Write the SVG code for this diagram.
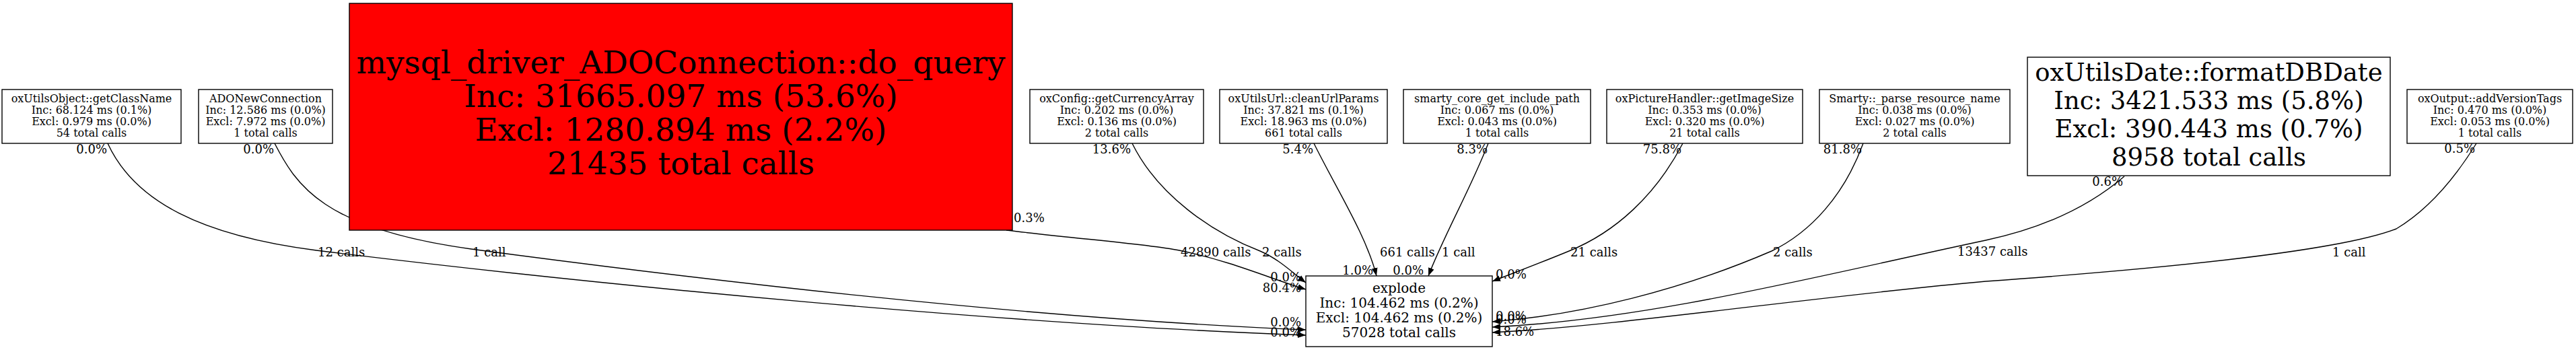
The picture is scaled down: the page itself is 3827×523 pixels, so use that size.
<svg xmlns="http://www.w3.org/2000/svg" width="3827" height="523" viewBox="0 0 3827 523">
<style>
.box{fill:#fff;stroke:#000;stroke-width:1.4}
.red{fill:#ff0000;stroke:#000;stroke-width:1.4}
text{font-family:"DejaVu Serif","Liberation Serif",serif;fill:#000}
.s{font-size:16px;text-anchor:middle}
.m{font-size:20px;text-anchor:middle}
.b{font-size:47px;text-anchor:middle}
.d{font-size:37px;text-anchor:middle}
.l{font-size:18px}
.e{fill:none;stroke:#000;stroke-width:1.4}
</style>
<defs>
<marker id="ah" markerWidth="13" markerHeight="9" refX="12" refY="4.5" orient="auto" markerUnits="userSpaceOnUse"><path d="M0,0 L12,4.5 L0,9 z" fill="#000"/></marker>
</defs>
<rect width="3827" height="523" fill="#fff"/>
<g id="connectors">
<path class="e" marker-end="url(#ah)" d="M160,213 C200,300 300,350 470,372 C900,425 1500,482 1940,498"/>
<path class="e" marker-end="url(#ah)" d="M408,213 C440,275 480,340 700,370 C1000,410 1500,472 1940,490"/>
<path class="e" marker-end="url(#ah)" d="M1495,342 C1600,355 1700,362 1752,372 C1830,388 1890,415 1940,430"/>
<path class="e" marker-end="url(#ah)" d="M1682,213 C1720,290 1800,345 1872,373 C1900,385 1920,405 1940,420"/>
<path class="e" marker-end="url(#ah)" d="M1952,213 C1985,280 2030,350 2045,410"/>
<path class="e" marker-end="url(#ah)" d="M2211,213 C2185,280 2145,350 2122,410"/>
<path class="e" marker-end="url(#ah)" d="M2500,213 C2460,290 2400,345 2331,373 C2290,390 2250,405 2217,418"/>
<path class="e" marker-end="url(#ah)" d="M2768,213 C2740,290 2690,345 2632,373 C2500,430 2350,468 2217,478"/>
<path class="e" marker-end="url(#ah)" d="M3156,262 C3100,310 3030,340 2950,357 C2700,410 2450,475 2217,486"/>
<path class="e" marker-end="url(#ah)" d="M3679,213 C3650,260 3610,310 3560,340 C3470,375 3200,400 2950,418 C2700,440 2400,485 2217,494"/>
<g class="l">
<text x="159" y="228" text-anchor="end">0.0%</text>
<text x="407" y="228" text-anchor="end">0.0%</text>
<text x="1506" y="330">0.3%</text>
<text x="1680" y="228" text-anchor="end">13.6%</text>
<text x="1951" y="228" text-anchor="end">5.4%</text>
<text x="2210" y="228" text-anchor="end">8.3%</text>
<text x="2498" y="228" text-anchor="end">75.8%</text>
<text x="2766" y="228" text-anchor="end">81.8%</text>
<text x="3154" y="276" text-anchor="end">0.6%</text>
<text x="3677" y="227" text-anchor="end">0.5%</text>
<text x="472" y="381">12 calls</text>
<text x="702" y="381">1 call</text>
<text x="1754" y="381">42890 calls</text>
<text x="1875" y="381">2 calls</text>
<text x="2050" y="381">661 calls</text>
<text x="2142" y="381">1 call</text>
<text x="2333" y="381">21 calls</text>
<text x="2634" y="381">2 calls</text>
<text x="2908" y="380">13437 calls</text>
<text x="3465" y="381">1 call</text>
<text x="1933" y="418" text-anchor="end">0.0%</text>
<text x="1933" y="434" text-anchor="end">80.4%</text>
<text x="1933" y="485" text-anchor="end">0.0%</text>
<text x="1933" y="500" text-anchor="end">0.0%</text>
<text x="2040" y="408" text-anchor="end">1.0%</text>
<text x="2115" y="408" text-anchor="end">0.0%</text>
<text x="2222" y="414">0.0%</text>
<text x="2222" y="476">0.0%</text>
<text x="2222" y="481">0.0%</text>
<text x="2222" y="499">18.6%</text>
</g>
</g>
<g id="n1"><rect class="box" x="3" y="133" width="266" height="80"/><text class="s" x="136" y="151.5">oxUtilsObject::getClassName</text><text class="s" x="136" y="168.5">Inc: 68.124 ms (0.1%)</text><text class="s" x="136" y="185.5">Excl: 0.979 ms (0.0%)</text><text class="s" x="136" y="202.5">54 total calls</text></g>
<g id="n2"><rect class="box" x="295" y="133" width="199" height="80"/><text class="s" x="394.5" y="151.5">ADONewConnection</text><text class="s" x="394.5" y="168.5">Inc: 12.586 ms (0.0%)</text><text class="s" x="394.5" y="185.5">Excl: 7.972 ms (0.0%)</text><text class="s" x="394.5" y="202.5">1 total calls</text></g>
<g id="n3"><rect class="red" x="519" y="5" width="985" height="337"/><text class="b" x="1011.5" y="109">mysql_driver_ADOConnection::do_query</text><text class="b" x="1011.5" y="159">Inc: 31665.097 ms (53.6%)</text><text class="b" x="1011.5" y="209">Excl: 1280.894 ms (2.2%)</text><text class="b" x="1011.5" y="259">21435 total calls</text></g>
<g id="n4"><rect class="box" x="1530" y="133" width="258" height="80"/><text class="s" x="1659" y="151.5">oxConfig::getCurrencyArray</text><text class="s" x="1659" y="168.5">Inc: 0.202 ms (0.0%)</text><text class="s" x="1659" y="185.5">Excl: 0.136 ms (0.0%)</text><text class="s" x="1659" y="202.5">2 total calls</text></g>
<g id="n5"><rect class="box" x="1812" y="133" width="249" height="80"/><text class="s" x="1936.5" y="151.5">oxUtilsUrl::cleanUrlParams</text><text class="s" x="1936.5" y="168.5">Inc: 37.821 ms (0.1%)</text><text class="s" x="1936.5" y="185.5">Excl: 18.963 ms (0.0%)</text><text class="s" x="1936.5" y="202.5">661 total calls</text></g>
<g id="n6"><rect class="box" x="2085" y="133" width="278" height="80"/><text class="s" x="2224" y="151.5">smarty_core_get_include_path</text><text class="s" x="2224" y="168.5">Inc: 0.067 ms (0.0%)</text><text class="s" x="2224" y="185.5">Excl: 0.043 ms (0.0%)</text><text class="s" x="2224" y="202.5">1 total calls</text></g>
<g id="n7"><rect class="box" x="2387" y="133" width="291" height="80"/><text class="s" x="2532.5" y="151.5">oxPictureHandler::getImageSize</text><text class="s" x="2532.5" y="168.5">Inc: 0.353 ms (0.0%)</text><text class="s" x="2532.5" y="185.5">Excl: 0.320 ms (0.0%)</text><text class="s" x="2532.5" y="202.5">21 total calls</text></g>
<g id="n8"><rect class="box" x="2703" y="133" width="283" height="80"/><text class="s" x="2844.5" y="151.5">Smarty::_parse_resource_name</text><text class="s" x="2844.5" y="168.5">Inc: 0.038 ms (0.0%)</text><text class="s" x="2844.5" y="185.5">Excl: 0.027 ms (0.0%)</text><text class="s" x="2844.5" y="202.5">2 total calls</text></g>
<g id="n9"><rect class="box" x="3012" y="85" width="539" height="176"/><text class="d" x="3281.5" y="120">oxUtilsDate::formatDBDate</text><text class="d" x="3281.5" y="162">Inc: 3421.533 ms (5.8%)</text><text class="d" x="3281.5" y="204">Excl: 390.443 ms (0.7%)</text><text class="d" x="3281.5" y="246">8958 total calls</text></g>
<g id="n10"><rect class="box" x="3576" y="133" width="246" height="80"/><text class="s" x="3699" y="151.5">oxOutput::addVersionTags</text><text class="s" x="3699" y="168.5">Inc: 0.470 ms (0.0%)</text><text class="s" x="3699" y="185.5">Excl: 0.053 ms (0.0%)</text><text class="s" x="3699" y="202.5">1 total calls</text></g>
<g id="n11"><rect class="box" x="1940" y="410" width="277" height="105"/><text class="m" x="2078.5" y="434.5">explode</text><text class="m" x="2078.5" y="456.5">Inc: 104.462 ms (0.2%)</text><text class="m" x="2078.5" y="478.5">Excl: 104.462 ms (0.2%)</text><text class="m" x="2078.5" y="500.5">57028 total calls</text></g>
</svg>
